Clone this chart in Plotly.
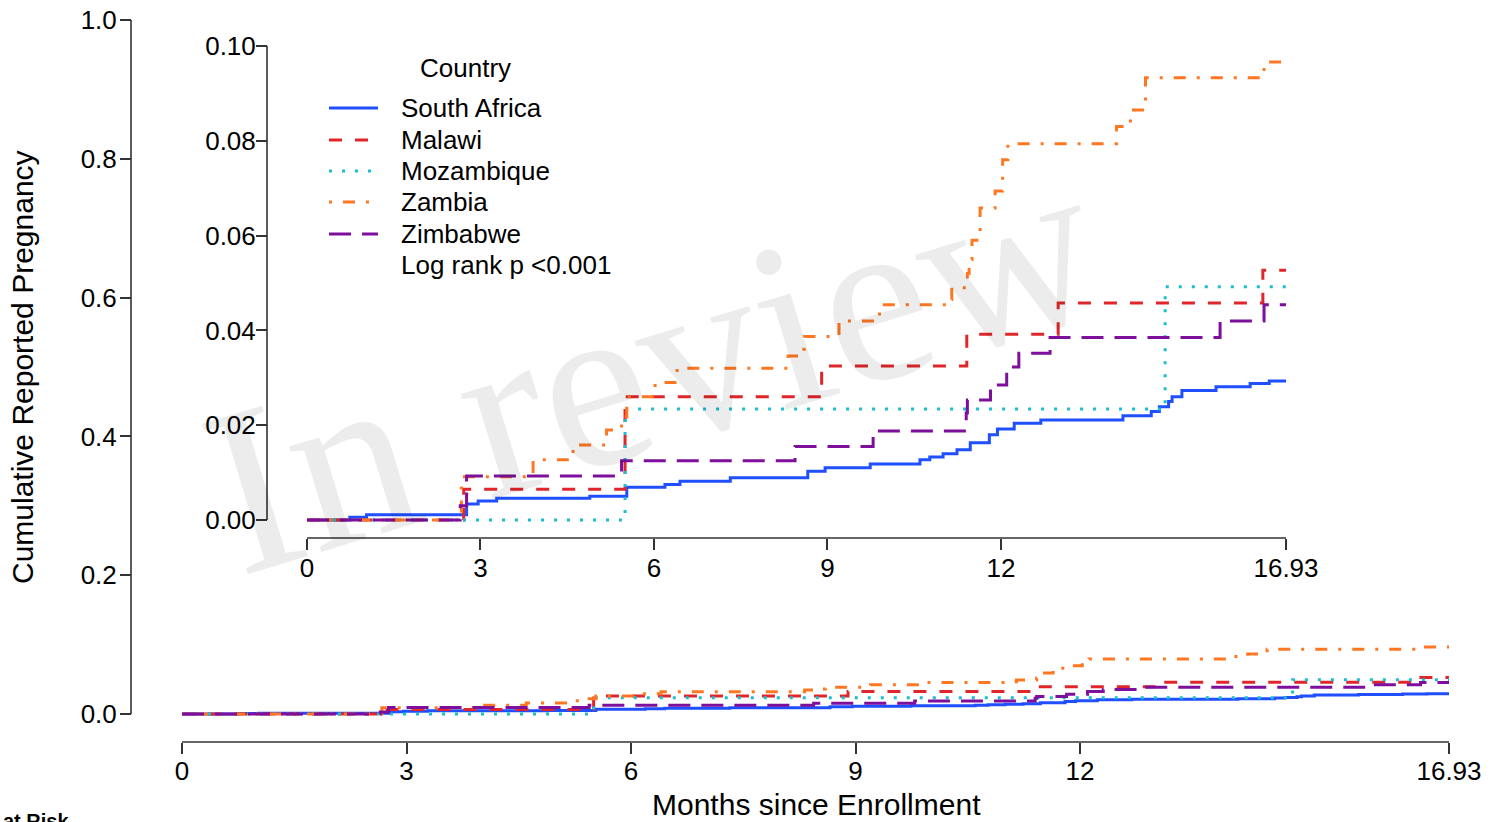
import plotly.graph_objects as go

W, H = 1503, 822

# ---------------- data ----------------
countries = ["South Africa", "Malawi", "Mozambique", "Zambia", "Zimbabwe"]

sa_t = [0, 0.74, 1.03, 2.76, 2.96, 3.28, 4.89, 5.53, 6.19, 6.45, 7.32, 8.66, 8.96, 9.74, 10.6, 10.77,
        11.0, 11.24, 11.47, 11.8, 11.94, 12.23, 12.69, 14.11, 14.6, 14.74, 14.9, 14.96, 15.13, 15.72,
        16.31, 16.64, 16.93]
sa_v = [0, 0.0006, 0.0011, 0.0034, 0.0040, 0.0046, 0.0050, 0.0069, 0.0075, 0.0082, 0.0089, 0.0103,
        0.0110, 0.0118, 0.0127, 0.0133, 0.0140, 0.0148, 0.0163, 0.0180, 0.0192, 0.0204, 0.0211, 0.0220,
        0.0229, 0.0239, 0.0250, 0.0260, 0.0273, 0.0281, 0.0288, 0.0293, 0.0293]

mw_t = [0, 2.71, 5.5, 8.9, 11.41, 12.99, 16.53, 16.93]
mw_v = [0, 0.0065, 0.026, 0.0325, 0.0392, 0.0458, 0.0527, 0.0527]

mz_t = [0, 5.5, 14.84, 16.93]
mz_v = [0, 0.0234, 0.0492, 0.0492]

zm_t = [0, 2.67, 3.91, 4.6, 5.18, 5.44, 5.53, 6.02, 6.4, 8.32, 8.53, 8.6, 9.2, 9.9, 11.07, 11.15,
        11.42, 11.45, 11.5, 11.64, 11.9, 12.03, 12.12, 14.0, 14.24, 14.5, 16.55, 16.93]
zm_v = [0, 0.0091, 0.0127, 0.0158, 0.019, 0.0218, 0.026, 0.029, 0.032, 0.0346, 0.036, 0.0387, 0.042,
        0.0454, 0.0465, 0.049, 0.052, 0.0549, 0.059, 0.0658, 0.0694, 0.076, 0.0794, 0.083, 0.0865,
        0.0933, 0.0966, 0.0966]

zw_t = [0, 2.65, 2.76, 5.44, 8.44, 9.79, 11.40, 11.42, 11.82, 12.1, 12.31, 12.85, 15.79, 16.55, 16.93]
zw_v = [0, 0.003, 0.0093, 0.0125, 0.0155, 0.0188, 0.0226, 0.0253, 0.0285, 0.0323, 0.0352, 0.0385,
        0.042, 0.0454, 0.0454]

x_ticks = [0, 3, 6, 9, 12, 16.93]
x_ticktext = ["0", "3", "6", "9", "12", "16.93"]
y_main_ticks = [0.0, 0.2, 0.4, 0.6, 0.8, 1.0]
y_main_ticktext = ["0.0", "0.2", "0.4", "0.6", "0.8", "1.0"]
y_inset_ticks = [0.00, 0.02, 0.04, 0.06, 0.08, 0.10]
y_inset_ticktext = ["0.00", "0.02", "0.04", "0.06", "0.08", "0.10"]
legend_note = "Log rank p <0.001"

# ---------------- styles ----------------
series = [
    (countries[0], sa_t, sa_v, "#1f4fff", "solid"),
    (countries[1], mw_t, mw_v, "#e0262a", "13px,13px"),
    (countries[2], mz_t, mz_v, "#1bbdd0", "3px,10px"),
    (countries[3], zm_t, zm_v, "#ff7722", "3px,11px,12px,11px"),
    (countries[4], zw_t, zw_v, "#7d0f9c", "22px,11px"),
]

FONT = "Liberation Sans, Arial, Helvetica, sans-serif"
AXC = "#333333"


def px(x):
    return x / W


def py(y):
    return 1 - y / H


fig = go.Figure()

for name, t, v, col, dash in series:
    fig.add_trace(go.Scatter(x=t, y=v, mode="lines", name=name, line=dict(color=col, width=3, dash=dash,
                                                                           shape="hv"),
                             xaxis="x", yaxis="y", showlegend=False, hoverinfo="x+y+name"))
for name, t, v, col, dash in series:
    fig.add_trace(go.Scatter(x=t, y=v, mode="lines", name=name, line=dict(color=col, width=3, dash=dash,
                                                                           shape="hv"),
                             xaxis="x2", yaxis="y2", showlegend=False, hoverinfo="x+y+name"))

# main axes: y 1.0 at px 20, 0.0 at px 714 ; x 0 at 182, 16.93 at 1449
main_ppu = (714 - 20) / 1.0
inset_ppu = (520 - 46) / 0.10
main_ymin = -0.02
inset_ymin = -0.003

tick_common = dict(ticks="outside", ticklen=11, tickwidth=1.6, tickcolor=AXC, showline=False,
                   showgrid=False, zeroline=False, tickfont=dict(family=FONT, size=26, color="#000000"),
                   fixedrange=True, automargin=False)

fig.update_layout(
    width=W, height=H, margin=dict(l=0, r=0, t=0, b=0, pad=0, autoexpand=False), autosize=False,
    paper_bgcolor="white", plot_bgcolor="rgba(0,0,0,0)",
    showlegend=False,
    font=dict(family=FONT, color="#000000"),
    xaxis=dict(domain=[px(182), px(1449)], range=[0, 16.93], anchor="free", position=py(742),
               tickmode="array", tickvals=x_ticks, ticktext=x_ticktext, ticklabelstandoff=-5, **tick_common),
    yaxis=dict(domain=[py(714 - main_ymin * main_ppu), py(20)], range=[main_ymin, 1.0], anchor="free",
               position=px(131), tickmode="array", tickvals=y_main_ticks, ticktext=y_main_ticktext,
               ticklabelstandoff=-2, **tick_common),
    xaxis2=dict(domain=[px(307), px(1286)], range=[0, 16.93], anchor="free", position=py(538),
                tickmode="array", tickvals=x_ticks, ticktext=x_ticktext, ticklabelstandoff=-4, **tick_common),
    yaxis2=dict(domain=[py(520 - inset_ymin * inset_ppu), py(46)], range=[inset_ymin, 0.10], anchor="free",
                position=px(267), tickmode="array", tickvals=y_inset_ticks, ticktext=y_inset_ticktext,
                ticklabelstandoff=-5, **tick_common),
)

# axis lines (offset, Prism-style)
shapes = [
    dict(type="line", xref="x", yref="paper", x0=0, x1=16.93, y0=py(742), y1=py(742)),
    dict(type="line", xref="paper", yref="y", x0=px(131), x1=px(131), y0=0, y1=1.0),
    dict(type="line", xref="x2", yref="paper", x0=0, x1=16.93, y0=py(538), y1=py(538)),
    dict(type="line", xref="paper", yref="y2", x0=px(267), x1=px(267), y0=0, y1=0.10),
]
for s in shapes:
    s["line"] = dict(color=AXC, width=1.6)
    s["layer"] = "above"

# legend samples
leg_y = [108, 140, 171, 202, 234]
for (name, t, v, col, dash), yy in zip(series, leg_y):
    shapes.append(dict(type="line", xref="paper", yref="paper", x0=px(329), x1=px(378), y0=py(yy), y1=py(yy),
                       line=dict(color=col, width=3, dash=dash)))
fig.update_layout(shapes=shapes)

ann = []
# watermark
ann.append(dict(text="In review", xref="paper", yref="paper", x=px(652), y=py(366), showarrow=False,
                textangle=-17, font=dict(family="Liberation Serif, Times New Roman, serif", size=240,
                                         color="rgba(0,0,0,0.075)"),
                xanchor="center", yanchor="middle"))
# legend texts
ann.append(dict(text="Country", xref="paper", yref="paper", x=px(465), y=py(68), showarrow=False,
                font=dict(size=26), xanchor="center", yanchor="middle"))
for (name, t, v, col, dash), yy in zip(series, leg_y):
    ann.append(dict(text=name, xref="paper", yref="paper", x=px(399), y=py(yy), showarrow=False,
                    font=dict(size=26), xanchor="left", yanchor="middle"))
ann.append(dict(text=legend_note, xref="paper", yref="paper", x=px(399), y=py(265), showarrow=False,
                font=dict(size=26), xanchor="left", yanchor="middle"))
# axis titles
ann.append(dict(text="Months since Enrollment", xref="paper", yref="paper", x=px(816), y=py(804),
                showarrow=False, font=dict(size=30), xanchor="center", yanchor="middle"))
ann.append(dict(text="Cumulative Reported Pregnancy", xref="paper", yref="paper", x=px(22), y=py(367),
                showarrow=False, font=dict(size=30), textangle=-90, xanchor="center", yanchor="middle"))
# number-at-risk header (cut off at bottom)
ann.append(dict(text="<b>at Risk</b>", xref="paper", yref="paper", x=px(1), y=py(808), showarrow=False,
                font=dict(size=20), xanchor="left", yanchor="top"))
fig.update_layout(annotations=ann)

fig.write_html("out.html", config={"displayModeBar": False},
               post_script="document.body.style.margin='0';document.body.style.overflow='hidden';")
